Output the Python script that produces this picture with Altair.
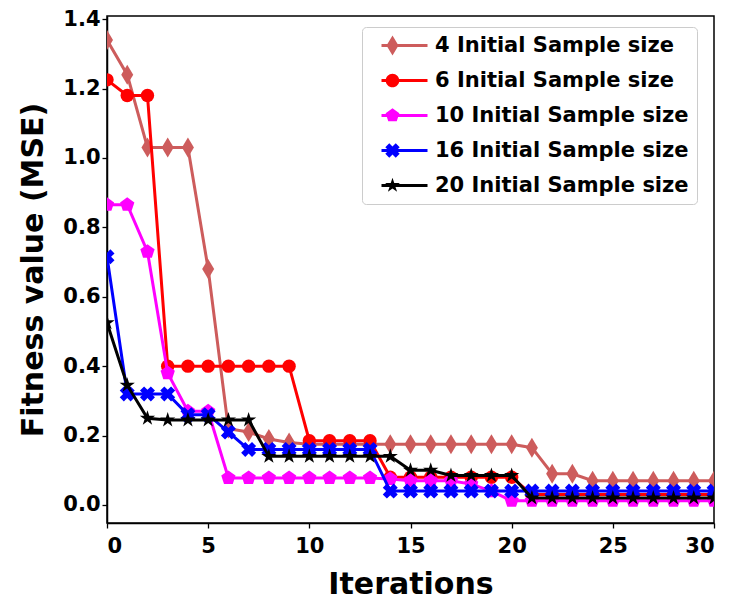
import altair as alt
import pandas as pd

iterations = list(range(31))
labels = [
    "4 Initial Sample size",
    "6 Initial Sample size",
    "10 Initial Sample size",
    "16 Initial Sample size",
    "20 Initial Sample size",
]
colors = ["#CD5C5C", "#FF0000", "#FF00FF", "#0000FF", "#000000"]

s4 = [1.34, 1.24, 1.03, 1.03, 1.03, 0.68, 0.22, 0.21, 0.19, 0.18] + [0.175] * 11 + [0.165, 0.09, 0.09] + [0.07] * 7
s6 = [1.225, 1.18, 1.18] + [0.40] * 7 + [0.185] * 4 + [0.08] * 7 + [0.03] * 10
s10 = [0.865, 0.865, 0.73, 0.38, 0.27, 0.27] + [0.078] * 8 + [0.075, 0.07, 0.07, 0.07, 0.06, 0.04, 0.012] + [0.012] * 10
s16 = [0.715, 0.32, 0.32, 0.32, 0.26, 0.26, 0.21] + [0.16] * 7 + [0.04] * 17
s20 = [0.525, 0.345, 0.25] + [0.245] * 5 + [0.14] * 7 + [0.10, 0.10] + [0.085] * 4 + [0.02] * 10
series_values = [s4, s6, s10, s16, s20]

x_ticks = [0, 5, 10, 15, 20, 25, 30]
y_ticks = [0.0, 0.2, 0.4, 0.6, 0.8, 1.0, 1.2, 1.4]

rows = []
for lab, vals in zip(labels, series_values):
    for it, v in zip(iterations, vals):
        rows.append({"iter": it, "mse": v, "series": lab})
df = pd.DataFrame(rows)


def poly(points, dx=0.0, scale=1.0):
    out = []
    for i, (px, py) in enumerate(points):
        out.append(("M" if i == 0 else "L") + f"{px * scale + dx:.3f},{py * scale:.3f}")
    return "".join(out) + "Z"


a = 0.55
diamond_pts = [(0, -1), (0.6, 0), (0, 1), (-0.6, 0)]
pent_pts = [(0, -1), (0.951, -0.309), (0.588, 0.809), (-0.588, 0.809), (-0.951, -0.309)]
x_pts = [(-1, -1 + a), (-1 + a, -1), (0, -a), (1 - a, -1), (1, -1 + a), (a, 0), (1, 1 - a),
         (1 - a, 1), (0, a), (-1 + a, 1), (-1, 1 - a), (-a, 0)]
star_pts = [(0, -1), (0.223, -0.307), (0.951, -0.309), (0.361, 0.117), (0.588, 0.809),
            (0, 0.38), (-0.588, 0.809), (-0.361, 0.117), (-0.951, -0.309), (-0.223, -0.307)]

marker_shapes = [poly(diamond_pts), "circle", poly(pent_pts), poly(x_pts), poly(star_pts)]
marker_sizes = [400, 180, 225, 225, 256]

dx = 1.2
line_seg = f"M{-1.1 + dx:.3f},-0.15L{3.5 + dx:.3f},-0.15L{3.5 + dx:.3f},0.15L{-1.1 + dx:.3f},0.15Z"
r = 0.68
circle_leg = f"M{dx - r:.3f},0A{r},{r} 0 1,1 {dx + r:.3f},0A{r},{r} 0 1,1 {dx - r:.3f},0Z"
legend_paths = [
    line_seg + poly(diamond_pts, dx, 1.0),
    line_seg + circle_leg,
    line_seg + poly(pent_pts, dx, 0.72),
    line_seg + poly(x_pts, dx, 0.72),
    line_seg + poly(star_pts, dx, 0.78),
]

W, H = 607, 507

x_enc = alt.X(
    "iter:Q",
    scale=alt.Scale(domain=[0, 30], nice=False, zero=False),
    axis=alt.Axis(title="Iterations", values=x_ticks, format="d", labelPadding=7,
                  titleX=W / 2, titleY=70, titleBaseline="alphabetic"),
)
y_enc = alt.Y(
    "mse:Q",
    scale=alt.Scale(domain=[-0.052, 1.409], nice=False, zero=False),
    axis=alt.Axis(title="Fitness value (MSE)", values=y_ticks, format=".1f", labelPadding=2,
                  titleX=-65, titleY=H / 2, titleBaseline="alphabetic"),
)

layers = []
for lab, col, shp, sz in zip(labels, colors, marker_shapes, marker_sizes):
    base = alt.Chart(df).transform_filter(alt.datum.series == lab)
    layers.append(base.mark_line(color=col, strokeWidth=3, clip=True).encode(x=x_enc, y=y_enc))
    layers.append(base.mark_point(filled=True, shape=shp, size=sz, color=col, opacity=1,
                                  strokeWidth=0, clip=True).encode(x=x_enc, y=y_enc))

legend_obj = alt.Legend(
    title=None, orient="none", legendX=255, legendY=11, padding=8, rowPadding=13,
    labelOffset=44, labelFont="DejaVu Sans", labelFontSize=21, labelFontWeight="bold",
    labelColor="black", labelLimit=600, symbolSize=400, symbolStrokeWidth=0,
    symbolOpacity=1, strokeColor="#cccccc", fillColor="white", cornerRadius=4,
)
legend_layer = alt.Chart(df).transform_filter("false").mark_point(filled=True, size=400).encode(
    x=x_enc, y=y_enc,
    color=alt.Color("series:N", scale=alt.Scale(domain=labels, range=colors), legend=legend_obj),
    shape=alt.Shape("series:N", scale=alt.Scale(domain=labels, range=legend_paths), legend=legend_obj),
)
layers.append(legend_layer)

chart = alt.layer(*layers).properties(
    width=W, height=H,
    padding={"left": 107, "top": 16, "right": 16, "bottom": 79},
    autosize=alt.AutoSizeParams(type="none"),
).configure_view(
    stroke="black", strokeWidth=1.5
).configure_axis(
    grid=False, domainColor="black", domainWidth=1.5, tickColor="black", tickWidth=1.3,
    tickSize=5, labelFont="DejaVu Sans", labelFontWeight="bold", labelFontSize=21,
    labelColor="black", titleFont="DejaVu Sans", titleFontWeight="bold", titleFontSize=30,
    titleColor="black",
)

chart.save("out.html", embed_options={"renderer": "svg", "actions": False})
